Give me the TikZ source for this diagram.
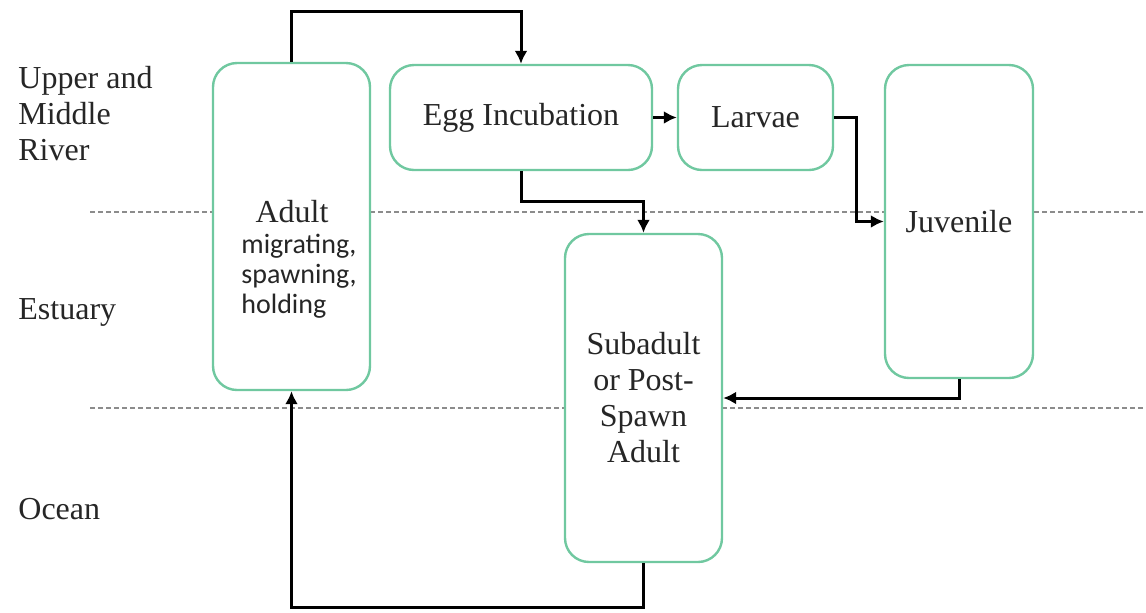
\documentclass[tikz,border=0pt]{standalone}
\usepackage{fontspec}
\setmainfont{Liberation Serif}
\newfontfamily\notefont{Carlito}
\usetikzlibrary{arrows.meta, positioning}
\definecolor{stagegreen}{RGB}{112,200,160}

\begin{document}
\begin{tikzpicture}[x=0.5pt, y=-0.5pt]
        \tikzstyle{every node}+=[inner sep=0pt, text=black!85, font=\fontsize{16}{18}\selectfont]
        \tikzstyle{stage}=[draw=stagegreen, line width=1.2pt, rounded corners=12pt, fill=white, align=center]
        \tikzstyle{flow}=[black, line width=1.5pt, -{Latex[length=6.5pt,width=6.5pt]}]
        \tikzstyle{zone}=[black!45, line width=0.8pt, dash pattern=on 2.5pt off 1.5pt]
        \useasboundingbox (0,0) rectangle (1146,612);
        \draw [zone] (90,212) -- (1146,212);
        \draw [zone] (90,408) -- (1146,408);
        \node [anchor=north west, align=left] (river) at (18,66) {Upper and\\Middle\\River};
        \node [anchor=west] (estuary) at (18,312) {Estuary};
        \node [anchor=west] (ocean) at (18,509) {Ocean};
        \node [stage, minimum width=78.5pt, minimum height=163.5pt] (adult) at (291.5,226.5) {};
        \node (adulttitle) at (292,212) {Adult};
        \node [align=left, font=\notefont\fontsize{14}{15}\selectfont] (adultnote) at (299,276) {migrating,\\spawning,\\holding};
        \node [stage, minimum width=131pt, minimum height=52.5pt] (egg) at (521,117.5) {Egg Incubation};
        \node [stage, minimum width=77.5pt, minimum height=52.5pt] (larvae) at (755.5,117.5) {Larvae};
        \node [stage, minimum width=74pt, minimum height=156.5pt] (juvenile) at (959,221.5) {Juvenile};
        \node [stage, minimum width=78.5pt, minimum height=164pt] (subadult) at (643.5,398) {Subadult\\or Post-\\Spawn\\Adult};
        \draw [flow] (adult.north) -- ++(0,-50) -| (egg.north);
        \draw [flow] (egg.east) -- (larvae.west);
        \draw [flow] (larvae.east) -- ++(22,0) |- (juvenile.west);
        \draw [flow] (egg.south) -- ++(0,30) -| (subadult.north);
        \draw [flow] (juvenile.south) |- (subadult.east);
        \draw [flow] (subadult.south) -- ++(0,44) -| (adult.south);
\end{tikzpicture}
\end{document}
